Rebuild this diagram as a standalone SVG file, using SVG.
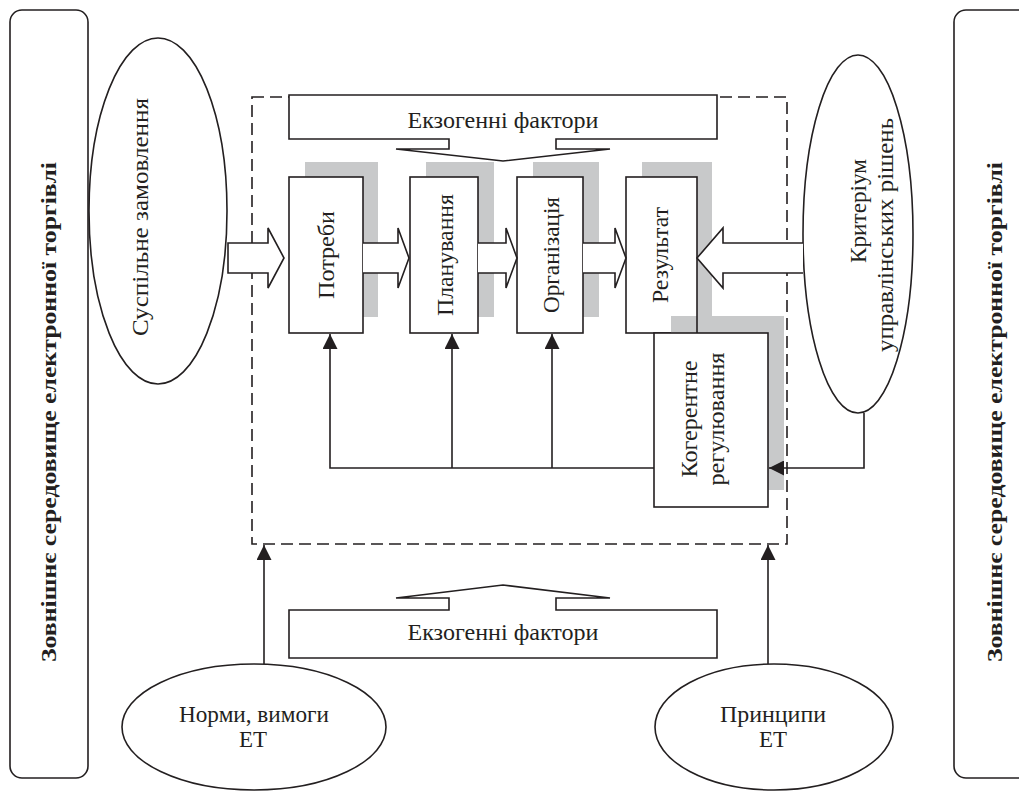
<svg xmlns="http://www.w3.org/2000/svg" width="1019" height="792" viewBox="0 0 1019 792">
<defs>
<style>
.ln{fill:none;stroke:#231f20;stroke-width:1.6}
.bx{fill:#fff;stroke:#231f20;stroke-width:1.6}
.sh{fill:#c8c9ca;stroke:none}
.t{font-family:"Liberation Serif","Times New Roman","DejaVu Serif",serif;font-size:24px;fill:#231f20;text-anchor:middle}
.tb{font-family:"Liberation Serif","Times New Roman","DejaVu Serif",serif;font-size:22px;font-weight:bold;fill:#231f20;text-anchor:middle}
.dash{fill:none;stroke:#231f20;stroke-width:1.6;stroke-dasharray:12 6}
</style>
<marker id="ah" viewBox="0 0 10 10" refX="10" refY="5" markerWidth="15" markerHeight="15" markerUnits="userSpaceOnUse" orient="auto">
<path d="M0,0 L10,5 L0,10 z" fill="#231f20"/>
</marker>
</defs>
<rect width="1019" height="792" fill="#fff"/>

<g id="env-left">
<rect x="10" y="10" width="78" height="768" rx="12" class="bx"/>
<text class="tb" transform="translate(56,412) rotate(-90)" textLength="500" lengthAdjust="spacingAndGlyphs">Зовнішнє середовище електронної торгівлі</text>
</g>
<g id="env-right">
<rect x="954" y="10" width="90" height="768" rx="12" class="bx"/>
<text class="tb" transform="translate(1002,412) rotate(-90)" textLength="500" lengthAdjust="spacingAndGlyphs">Зовнішнє середовище електронної торгівлі</text>
</g>

<g id="boundary">
<rect x="252" y="97" width="535" height="447" class="dash"/>
</g>

<g id="exo-top">
<path class="bx" d="M289,95 H717 V139 H556 V149 H610 L503,161 L396,149 H449 V139 H289 Z"/>
<text class="t" x="503" y="128" textLength="191" lengthAdjust="spacingAndGlyphs">Екзогенні фактори</text>
</g>
<g id="exo-bottom">
<path class="bx" d="M289,658 H717 V610 H556 V598 H610 L503,585 L396,598 H449 V610 H289 Z"/>
<text class="t" x="503" y="640" textLength="191" lengthAdjust="spacingAndGlyphs">Екзогенні фактори</text>
</g>

<g id="order">
<ellipse cx="158" cy="211" rx="69" ry="173" class="bx"/>
<text class="t" transform="translate(148,217) rotate(-90)" textLength="238" lengthAdjust="spacingAndGlyphs">Суспільне замовлення</text>
</g>
<g id="criterion">
<ellipse cx="858" cy="234" rx="55" ry="179" class="bx"/>
<text class="t" transform="translate(866,211) rotate(-90)" textLength="104" lengthAdjust="spacingAndGlyphs">Критеріум</text>
<text class="t" transform="translate(893,235) rotate(-90)" textLength="234" lengthAdjust="spacingAndGlyphs">управлінських рішень</text>
</g>
<g id="norms">
<ellipse cx="254" cy="727" rx="132" ry="63" class="bx"/>
<text class="t" x="254" y="722" textLength="150" lengthAdjust="spacingAndGlyphs">Норми, вимоги</text>
<text class="t" x="253" y="747" textLength="28" lengthAdjust="spacingAndGlyphs">ЕТ</text>
</g>
<g id="principles">
<ellipse cx="774" cy="727" rx="119" ry="63" class="bx"/>
<text class="t" x="773" y="722" textLength="106" lengthAdjust="spacingAndGlyphs">Принципи</text>
<text class="t" x="773" y="747" textLength="28" lengthAdjust="spacingAndGlyphs">ЕТ</text>
</g>

<g id="needs">
<rect x="305" y="162" width="73" height="155" class="sh"/>
<rect x="289" y="177" width="74" height="156" class="bx"/>
<text class="t" transform="translate(334,255) rotate(-90)" textLength="88" lengthAdjust="spacingAndGlyphs">Потреби</text>
</g>
<g id="planning">
<rect x="426" y="162" width="68" height="155" class="sh"/>
<rect x="410" y="177" width="68" height="156" class="bx"/>
<text class="t" transform="translate(453,255) rotate(-90)" textLength="122" lengthAdjust="spacingAndGlyphs">Планування</text>
</g>
<g id="organization">
<rect x="533" y="162" width="66" height="155" class="sh"/>
<rect x="517" y="177" width="66" height="156" class="bx"/>
<text class="t" transform="translate(559,255) rotate(-90)" textLength="116" lengthAdjust="spacingAndGlyphs">Організація</text>
</g>
<g id="result">
<rect x="642" y="162" width="70" height="155" class="sh"/>
<rect x="626" y="177" width="71" height="156" class="bx"/>
<text class="t" transform="translate(668,255) rotate(-90)" textLength="96" lengthAdjust="spacingAndGlyphs">Результат</text>
</g>
<g id="coherent">
<rect x="671" y="316" width="113" height="174" class="sh"/>
<rect x="654" y="333" width="114" height="174" class="bx"/>
<line x1="697" y1="316" x2="697" y2="333" class="ln" stroke-width="1"/>
<text class="t" transform="translate(697,419) rotate(-90)" textLength="117" lengthAdjust="spacingAndGlyphs">Когерентне</text>
<text class="t" transform="translate(724,419) rotate(-90)" textLength="133" lengthAdjust="spacingAndGlyphs">регулювання</text>
</g>

<g id="connectors">
<path class="bx" d="M228,243 H268 V228 L284,258 L268,288 V273 H228 Z"/>
<path class="bx" d="M363,243 H398 V228 L409,258 L398,288 V273 H363"/>
<path class="bx" d="M478,243 H506 V228 L517,258 L506,288 V273 H478"/>
<path class="bx" d="M583,243 H615 V228 L626,258 L615,288 V273 H583"/>
<path class="bx" d="M803,243 H723 V228 L697,258 L723,288 V273 H803"/>
<path class="ln" d="M654,468 H330 V334" marker-end="url(#ah)"/>
<path class="ln" d="M452,468 V334" marker-end="url(#ah)"/>
<path class="ln" d="M552,468 V334" marker-end="url(#ah)"/>
<path class="ln" d="M864,413 V468 H769" marker-end="url(#ah)"/>
<path class="ln" d="M264,664 V545" marker-end="url(#ah)"/>
<path class="ln" d="M768,664 V545" marker-end="url(#ah)"/>
</g>
</svg>
